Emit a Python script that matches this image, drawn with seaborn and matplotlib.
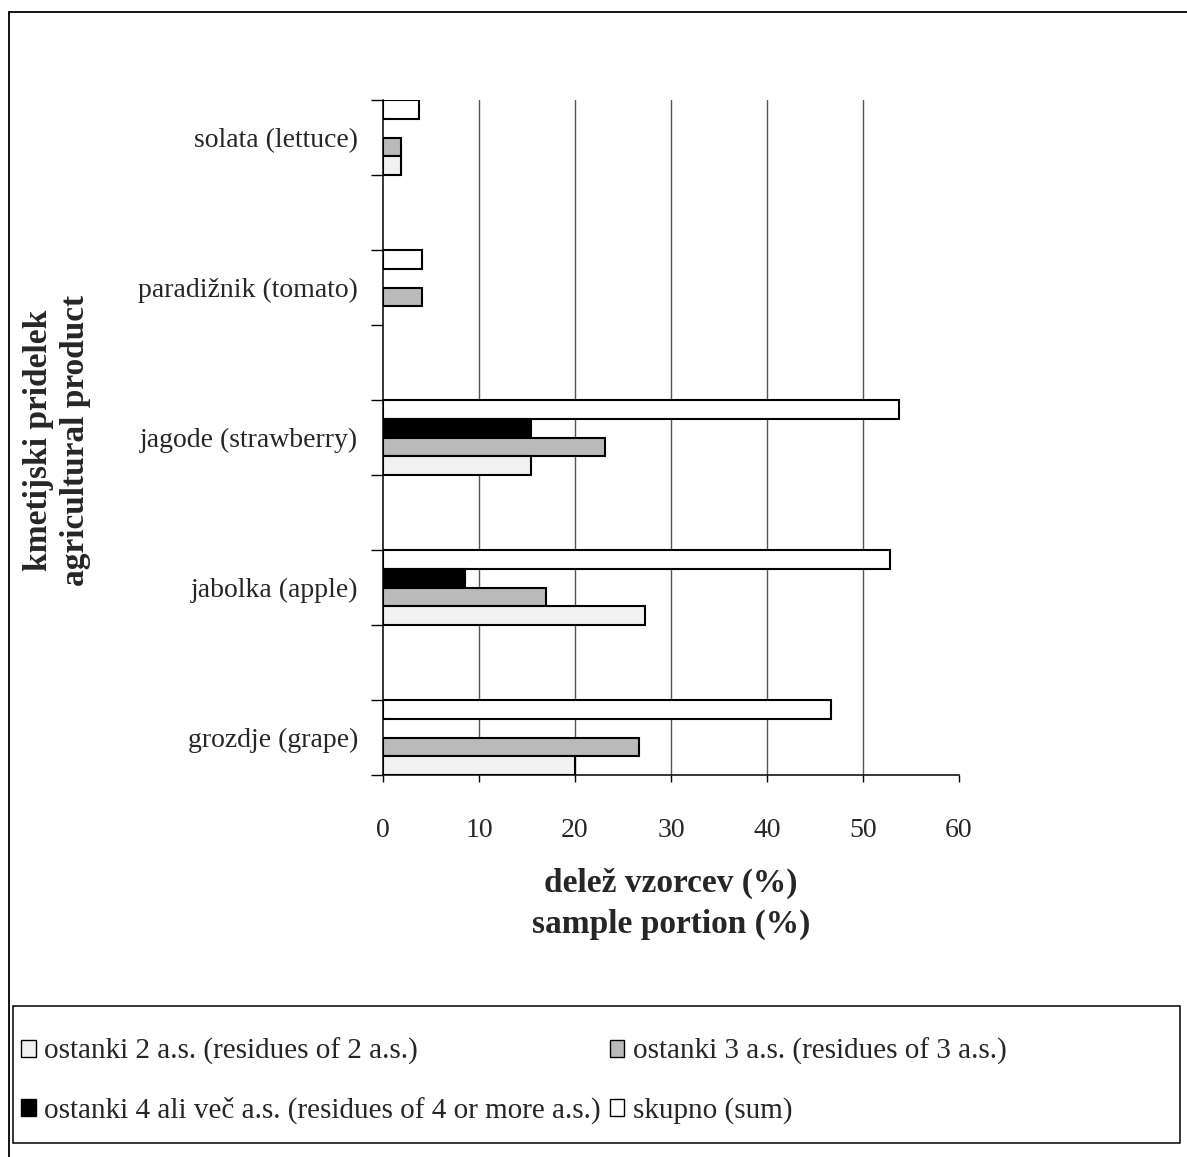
import matplotlib
matplotlib.use("Agg")
import matplotlib.pyplot as plt
from matplotlib.patches import Patch, Rectangle
from matplotlib.lines import Line2D
import numpy as np
import pandas as pd
import seaborn as sns

# Products (top to bottom) and the share of samples per residue class (%)
categories = ["solata (lettuce)", "paradižnik (tomato)", "jagode (strawberry)",
              "jabolka (apple)", "grozdje (grape)"]
res_2 = [1.9, 0.0, 15.4, 27.3, 20.0]
res_3 = [1.9, 4.1, 23.1, 17.0, 26.7]
res_4plus = [0.0, 0.0, 15.4, 8.5, 0.0]
res_sum = [3.8, 4.1, 53.8, 52.8, 46.7]

series_names = ["ostanki 2 a.s. (residues of 2 a.s.)",
                "ostanki 3 a.s. (residues of 3 a.s.)",
                "ostanki 4 ali več a.s. (residues of 4 or more a.s.)",
                "skupno (sum)"]
series_values = [res_2, res_3, res_4plus, res_sum]
series_colors = ["#f1f1f1", "#bababa", "#000000", "#ffffff"]

x_ticks = [0, 10, 20, 30, 40, 50, 60]

sns.set_style("white")
plt.rcParams["font.family"] = ["Liberation Serif", "DejaVu Serif"]

rows = []
for name, vals in zip(series_names, series_values):
    for cat, v in zip(categories, vals):
        rows.append({"product": cat, "series": name, "value": v})
df = pd.DataFrame(rows)

W, H = 1187, 1157
fig = plt.figure(figsize=(W / 100, H / 100), dpi=100)
ax = fig.add_axes([383 / W, 1 - 775 / H, (959 - 383) / W, (775 - 100) / H])

# bars inside each group: sum on top, then 4+, 3, 2
hue_order = [series_names[3], series_names[2], series_names[1], series_names[0]]
palette = dict(zip(series_names, series_colors))
sns.barplot(data=df, y="product", x="value", hue="series", order=categories,
            hue_order=hue_order, palette=palette, orient="h", width=0.5, gap=0,
            errorbar=None, edgecolor="black", linewidth=1.5, saturation=1,
            legend=False, ax=ax, zorder=3)
for p in ax.patches:
    if p.get_width() == 0:
        p.set_visible(False)

ax.set_xlim(0, 60)
ax.set_ylim(4.25, -0.25)
ax.set_xticks(x_ticks)
ax.set_xticklabels([str(t) for t in x_ticks])
ax.set_xlabel("")
ax.set_ylabel("")

ax.grid(axis="x", color="#555555", linewidth=1.0, zorder=0)
ax.grid(axis="y", visible=False)
ax.get_xgridlines()[-1].set_visible(False)
ax.get_xgridlines()[0].set_visible(False)

for side in ["top", "right"]:
    ax.spines[side].set_visible(False)
for side in ["left", "bottom"]:
    ax.spines[side].set_color("black")
    ax.spines[side].set_linewidth(1.1)

ax.tick_params(axis="x", direction="out", length=5, width=1, color="black",
               pad=26, labelsize=20, bottom=True)
ax.tick_params(axis="y", which="major", length=0, pad=18, labelsize=20)
ax.set_yticks(np.arange(-0.25, 4.26, 0.5), minor=True)
ax.tick_params(axis="y", which="minor", direction="out", length=9, width=1,
               color="black", left=True)

# axis titles
fig.text(671 / W, 1 - 904 / H, "delež vzorcev (%)\nsample portion (%)",
         ha="center", va="center", fontsize=24, fontweight="bold",
         linespacing=1.38)
fig.text(57 / W, 1 - 440 / H, "kmetijski pridelek\nagricultural product",
         ha="center", va="center", rotation=90, fontsize=24,
         fontweight="bold", linespacing=1.25)

# legend below the plot
handles = [Patch(facecolor=palette[n], edgecolor="black", linewidth=1.0)
           for n in series_names]
order = [0, 2, 1, 3]
fig.legend([handles[i] for i in order], [series_names[i] for i in order],
           ncol=2, loc="center left", bbox_to_anchor=(21 / W, 1 - 1081 / H),
           frameon=False, fontsize=21, handlelength=0.5, handleheight=0.5,
           handletextpad=0.3, columnspacing=0.3, labelspacing=1.1,
           borderpad=0, borderaxespad=0)
fig.add_artist(Rectangle((13 / W, 1 - 1143 / H), (1180 - 13) / W,
                         (1143 - 1006) / H, transform=fig.transFigure,
                         fill=False, edgecolor="black", linewidth=1.1))

# outer border of the chart area
fig.add_artist(Line2D([9 / W, 1.0], [1 - 12 / H, 1 - 12 / H],
                      transform=fig.transFigure, color="black", linewidth=1.3))
fig.add_artist(Line2D([9 / W, 9 / W], [1 - 12 / H, 0.0],
                      transform=fig.transFigure, color="black", linewidth=1.3))

fig.savefig("out.png", dpi=100)
